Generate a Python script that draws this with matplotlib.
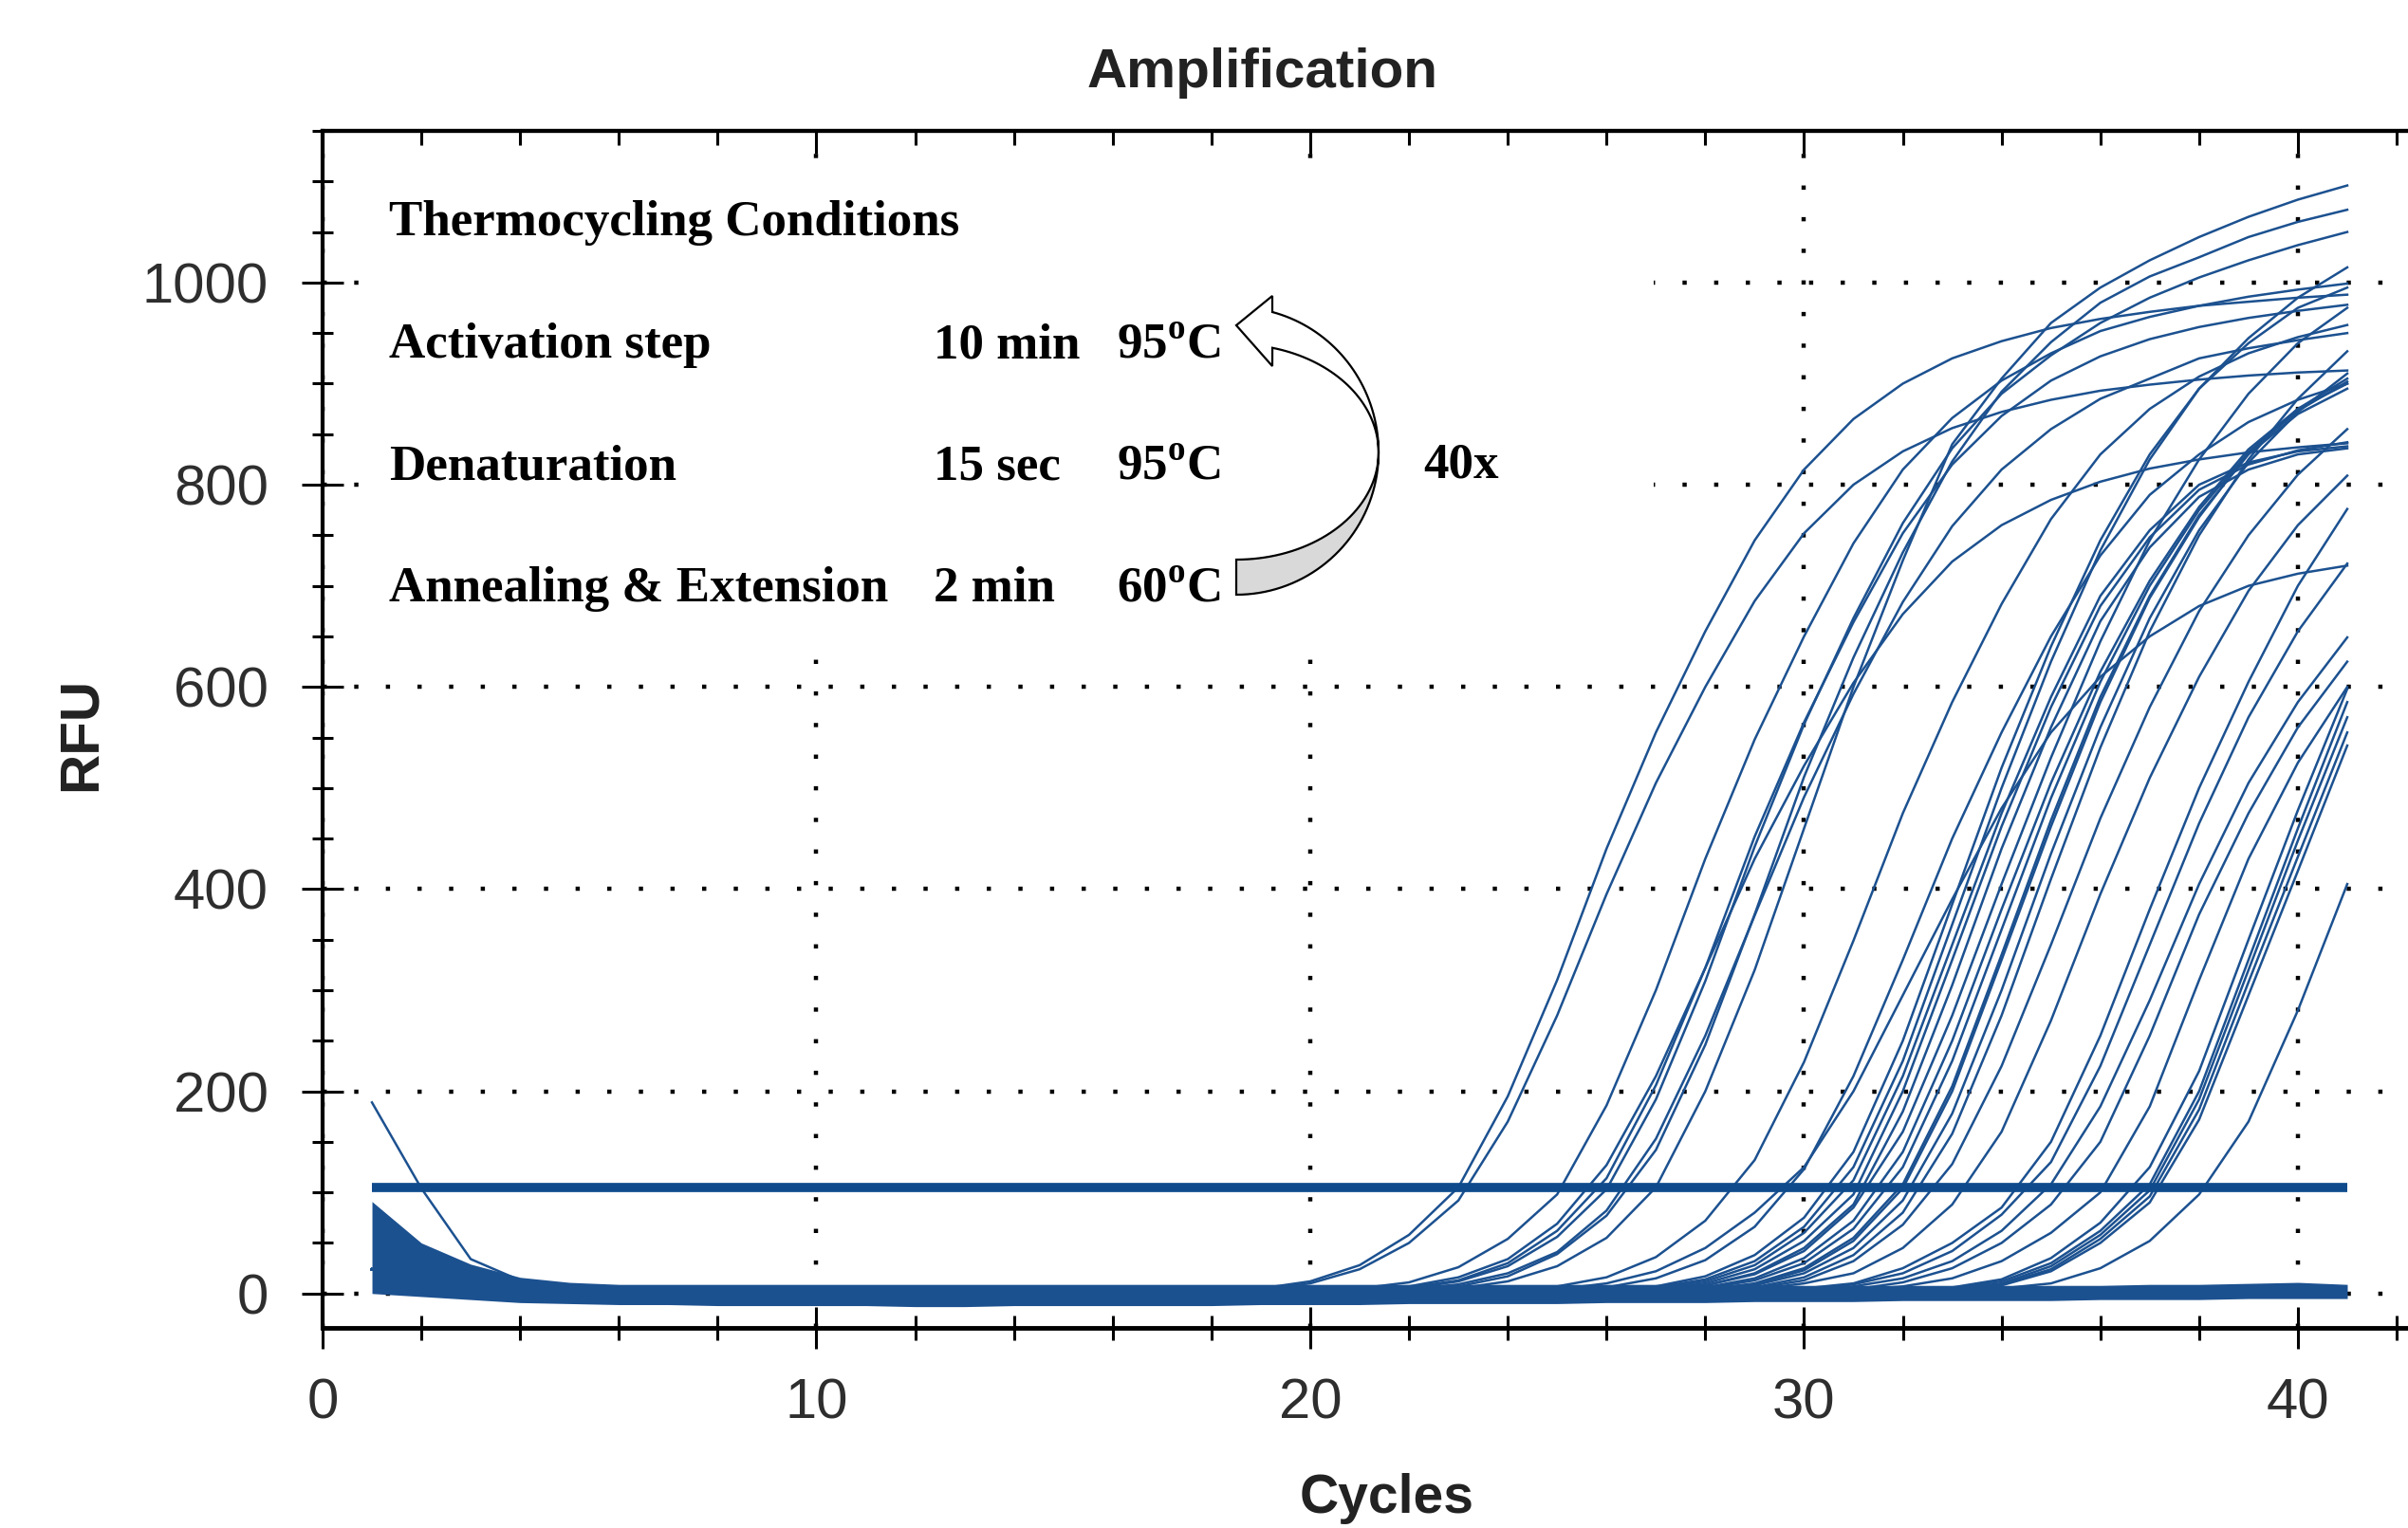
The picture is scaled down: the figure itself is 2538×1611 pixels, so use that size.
import numpy as np
import matplotlib.pyplot as plt
from matplotlib.patches import Rectangle, PathPatch
from matplotlib.path import Path
from matplotlib.ticker import MultipleLocator

plt.rcParams["font.family"] = "Liberation Sans"
plt.rcParams["mathtext.fontset"] = "custom"
plt.rcParams["mathtext.bf"] = "Liberation Serif:bold"
plt.rcParams["mathtext.rm"] = "Liberation Serif:bold"

# ---- data ----
cycles = list(range(1, 42))
threshold_rfu = 105

# baseline band (all wells, cycles 1-41)
band_top = [91, 50, 29, 16, 11, 9, 9, 9, 9, 9, 9, 9, 9, 9, 9, 9, 9, 9, 9, 9, 9,
            9, 9, 9, 9, 9, 9, 9, 9, 8, 8, 8, 8, 8, 8, 8, 9, 9, 10, 11, 9]
band_bottom = [0, -3, -6, -9, -10, -11, -11, -12, -12, -12, -12, -13, -13, -12, -12, -12, -12, -12, -11, -11, -11,
               -10, -10, -10, -10, -9, -9, -9, -8, -8, -8, -7, -7, -7, -7, -6, -6, -6, -5, -5, -5]

# the one well that starts high
spike = [189, 104, 34, 13, 6, 3, 1, 0]

# cycles 1-17 shared by the amplifying wells
pre_rise = [24, 13, 6, 3, 1, 0, 0, 0, 0, 0, 0, 0, 0, 0, 0, 0, 0]

# amplifying wells, RFU at cycles 18..41
early_wells = [
    [2, 5, 12, 28, 58, 105, 195, 310, 440, 555, 655, 745, 815, 865, 900, 925, 942, 955, 964, 971, 977, 981, 985, 988],
    [1, 4, 10, 24, 50, 92, 170, 275, 395, 505, 600, 685, 752, 800, 833, 856, 872, 884, 893, 899, 904, 908, 911, 913],
    [1, 1, 2, 5, 11, 26, 54, 98, 186, 300, 430, 548, 650, 742, 815, 866, 903, 930, 952, 966, 977, 986, 993, 999],
    [0, 0, 1, 3, 7, 16, 34, 69, 127, 215, 322, 430, 522, 604, 672, 724, 760, 785, 803, 816, 825, 832, 837, 841],
    [0, 0, 1, 2, 6, 13, 30, 62, 114, 206, 322, 452, 565, 664, 752, 820, 868, 903, 927, 944, 956, 965, 972, 978],
    [0, 0, 1, 2, 5, 12, 27, 56, 103, 192, 309, 442, 563, 668, 762, 836, 890, 928, 960, 985, 1005, 1022, 1037, 1050],
    [0, 0, 1, 2, 4, 9, 20, 41, 82, 153, 255, 374, 491, 593, 684, 759, 815, 855, 885, 905, 925, 935, 943, 950],
    [0, 0, 0, 1, 3, 7, 17, 39, 77, 142, 246, 375, 511, 629, 733, 823, 892, 941, 980, 1006, 1025, 1045, 1060, 1072],
    [0, 0, 0, 1, 2, 5, 12, 27, 55, 105, 200, 320, 460, 600, 725, 840, 905, 960, 995, 1022, 1045, 1065, 1082, 1096],
    [0, 0, 0, 0, 0, 1, 3, 7, 16, 36, 72, 132, 229, 349, 475, 585, 682, 766, 830, 875, 907, 930, 946, 958],
    [0, 0, 0, 0, 0, 1, 2, 4, 10, 22, 45, 80, 125, 200, 295, 390, 480, 555, 610, 650, 680, 700, 712, 720],
    [0, 0, 0, 0, 0, 0, 1, 3, 6, 15, 33, 66, 123, 215, 330, 450, 555, 650, 730, 790, 830, 862, 884, 900],
]

mid_wells = [
    [0, 0, 0, 0, 0, 0, 1, 1, 3, 5, 12, 28, 60, 112, 215, 345, 475, 590, 690, 755, 800, 822, 833, 838],
    [0, 0, 0, 0, 0, 0, 0, 1, 2, 4, 10, 24, 52, 98, 200, 330, 462, 580, 680, 748, 795, 820, 834, 842],
    [0, 0, 0, 0, 0, 0, 0, 1, 2, 3, 8, 20, 45, 88, 180, 305, 440, 560, 665, 738, 788, 815, 830, 836],
    [0, 0, 0, 0, 0, 0, 1, 1, 3, 7, 17, 38, 75, 140, 250, 385, 520, 640, 745, 830, 895, 940, 975, 995],
    [0, 0, 0, 0, 0, 0, 0, 1, 3, 6, 14, 32, 66, 125, 230, 365, 500, 625, 735, 825, 895, 945, 985, 1015],
    [0, 0, 0, 0, 0, 0, 0, 1, 2, 4, 8, 19, 42, 85, 160, 275, 405, 530, 645, 745, 825, 890, 940, 975],
    [0, 0, 0, 0, 0, 0, 0, 0, 1, 3, 6, 15, 35, 72, 140, 250, 380, 505, 615, 705, 778, 835, 875, 900],
    [0, 0, 0, 0, 0, 0, 0, 0, 1, 2, 5, 13, 30, 64, 125, 230, 360, 490, 605, 700, 775, 832, 873, 902],
    [0, 0, 0, 0, 0, 0, 0, 0, 1, 2, 4, 10, 25, 55, 108, 205, 335, 468, 590, 690, 770, 830, 870, 895],
    [0, 0, 0, 0, 0, 0, 0, 0, 0, 2, 4, 9, 23, 52, 104, 200, 330, 462, 585, 688, 768, 832, 875, 905],
    [0, 0, 0, 0, 0, 0, 0, 0, 0, 1, 3, 8, 20, 45, 92, 178, 300, 435, 560, 668, 755, 822, 872, 910],
    [0, 0, 0, 0, 0, 0, 0, 0, 0, 1, 3, 6, 16, 38, 80, 158, 275, 410, 540, 655, 750, 825, 885, 932],
]

late_wells = [
    [0] * 9 + [1, 2, 5, 13, 32, 68, 128, 225, 345, 470, 580, 675, 750, 810, 855],
    [0] * 10 + [1, 4, 10, 20, 45, 88, 160, 270, 395, 510, 610, 695, 760, 809],
    [0] * 11 + [2, 5, 10, 25, 50, 85, 150, 255, 380, 500, 605, 700, 776],
    [0] * 12 + [3, 9, 20, 42, 78, 130, 225, 345, 465, 570, 655, 722],
    [0] * 12 + [2, 7, 15, 32, 62, 108, 185, 290, 405, 505, 585, 649],
    [0] * 13 + [4, 11, 25, 50, 88, 150, 255, 375, 475, 560, 625],
    [0] * 13 + [3, 7, 15, 32, 60, 100, 185, 310, 430, 525, 600],
    [0] * 14 + [2, 5, 12, 30, 62, 108, 200, 330, 460, 585],
    [0] * 14 + [2, 4, 10, 27, 58, 102, 192, 320, 448, 570],
    [0] * 14 + [1, 4, 9, 24, 54, 96, 182, 308, 432, 555],
    [0] * 14 + [1, 3, 8, 22, 50, 90, 172, 295, 418, 542],
    [0] * 14 + [3, 6, 14, 35, 70, 125, 220, 350, 478, 598],
    [0] * 15 + [2, 5, 10, 25, 52, 98, 170, 280, 405],
]

thermo_rows = ["Activation step", "Denaturation", "Annealing & Extension"]
thermo_times = ["10 min", "15 sec", "2 min"]
thermo_temps = ["95", "95", "60"]

# ---- figure ----
W, H = 2538, 1611
BLUE = "#1c5190"
fig = plt.figure(figsize=(W / 100, H / 100), dpi=100)
ax = fig.add_axes([340 / W, 1 - 1400 / H, 1 - 340 / W, (1400 - 138) / H])
ax.set_xlim(0, 42.23)
ax.set_ylim(-34, 1150)

ax.fill_between(cycles, band_bottom, band_top, color=BLUE, lw=0, zorder=3)
ax.plot(cycles[:len(spike)], spike, color=BLUE, lw=1.8, zorder=3)
for well in early_wells + mid_wells + late_wells:
    ax.plot(cycles, pre_rise + well, color=BLUE, lw=1.8, zorder=3)
ax.hlines(threshold_rfu, 1, 41, color="#0f4b8c", lw=7, zorder=4)

# white box pasted over the grid behind the conditions text
ax.add_patch(Rectangle((0.8, 642), 26.15, 470, facecolor="white", edgecolor="none", zorder=1))

ax.set_axisbelow(True)
ax.grid(True, which="major", color="black", linestyle=(0, (1, 6.5)), linewidth=3.2)

ax.xaxis.set_major_locator(MultipleLocator(10))
ax.xaxis.set_minor_locator(MultipleLocator(2))
ax.yaxis.set_major_locator(MultipleLocator(200))
ax.yaxis.set_minor_locator(MultipleLocator(50))
ax.tick_params(which="both", direction="inout", width=2.2, color="black",
               labelsize=43, labelcolor="#2e2e2e")
ax.tick_params(axis="x", which="major", length=32, pad=22)
ax.tick_params(axis="x", which="minor", length=19)
ax.tick_params(axis="y", which="major", length=32, pad=25)
ax.tick_params(axis="y", which="minor", length=16)
ax.spines["right"].set_visible(False)
ax.spines["left"].set_linewidth(3)
ax.spines["bottom"].set_linewidth(3.5)
ax.spines["top"].set_linewidth(3)

top = ax.secondary_xaxis("top")
top.xaxis.set_major_locator(MultipleLocator(10))
top.xaxis.set_minor_locator(MultipleLocator(2))
top.tick_params(which="major", direction="in", length=17, width=2.2, labeltop=False)
top.tick_params(which="minor", direction="in", length=11, width=2.2)
top.spines["top"].set_linewidth(3)

fig.text(1331 / W, 1 - 92 / H, "Amplification", ha="center", va="baseline",
         fontsize=42, fontweight="bold", color="#222222")
fig.text(1462 / W, 1 - 1595 / H, "Cycles", ha="center", va="baseline",
         fontsize=41, fontweight="bold", color="#222222")
fig.text(86 / W, 1 - 774 / H, "RFU", ha="center", va="center", rotation=90,
         fontsize=42, fontweight="bold", color="#222222")

# thermocycling conditions
serif = dict(family="Liberation Serif", fontweight="bold", fontsize=38.2, color="black", va="baseline")
fig.text(410 / W, 1 - 248 / H, "Thermocycling Conditions", **serif)
for i, (name, t, temp) in enumerate(zip(thermo_rows, thermo_times, thermo_temps)):
    yb = 1 - (377 + 128.5 * i) / H
    fig.text(410 / W, yb, name, **serif)
    fig.text(984 / W, yb, t, **serif)
    fig.text(1177 / W, yb, temp + r"$^{\mathbf{o}}$C", **serif)
fig.text(1500 / W, 1 - 504 / H, "40x", **serif)


# curved block arrow (image pixel coordinates)
def fx(x, y):
    return (x / W, 1 - y / H)


cx, cy, a = 1303, 477, 150
th_up = np.radians(np.linspace(75.3, 0, 40))
th_dn = np.radians(np.linspace(0, -90, 40))
outer_up = [fx(cx + a * np.cos(t), cy - 153 * np.sin(t)) for t in th_up]
inner_up = [fx(cx + a * np.cos(t), cy - 114 * np.sin(t)) for t in th_up[::-1]]
head = [fx(1341, 386), fx(1303, 343), fx(1341, 312), fx(1341, 329)]
white_pts = outer_up + inner_up + head
outer_dn = [fx(cx + a * np.cos(t), cy - 150 * np.sin(t)) for t in th_dn]
inner_dn = [fx(cx + a * np.cos(t), cy - 113 * np.sin(t)) for t in th_dn[::-1]]
grey_pts = outer_dn + inner_dn + [outer_dn[0]]

for pts, fc in [(grey_pts, "#d9d9d9"), (white_pts + [white_pts[0]], "white")]:
    codes = [Path.MOVETO] + [Path.LINETO] * (len(pts) - 2) + [Path.CLOSEPOLY]
    fig.patches.append(PathPatch(Path(pts, codes), facecolor=fc, edgecolor="black",
                                 lw=1.6, transform=fig.transFigure, zorder=5))

fig.savefig("out.png", dpi=100)
